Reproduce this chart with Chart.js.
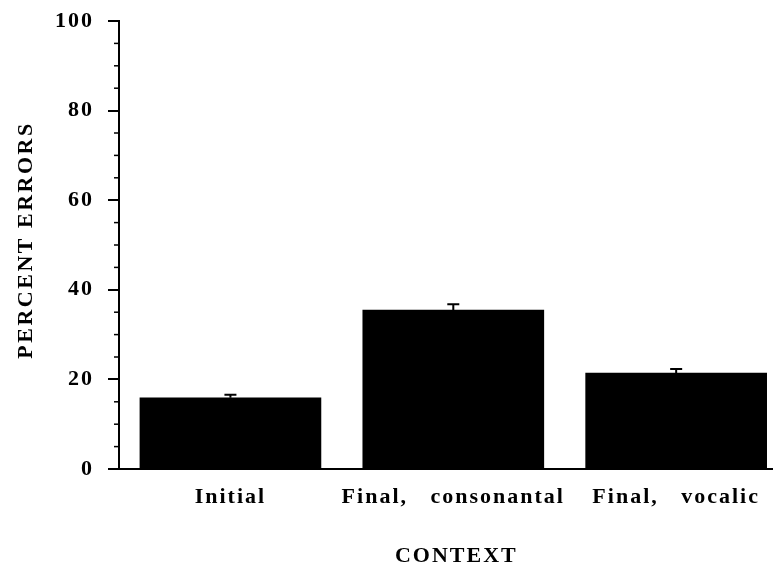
<!DOCTYPE html>
<html>
<head>
<meta charset="utf-8">
<script src="https://cdn.jsdelivr.net/npm/chart.js@4.4.0/dist/chart.umd.min.js"></script>
<style>
  html, body { margin: 0; padding: 0; background: #fff; }
  #wrap { width: 773px; height: 567px; }
</style>
</head>
<body>
<div id="wrap"><canvas id="errorsChart"></canvas></div>
<script>
// data
const categories = ['Initial', 'Final,   consonantal', 'Final,   vocalic'];
const percentErrors = [15.9, 35.5, 21.4];
const errorUp = [0.7, 1.3, 0.9];
const yTicks = [0, 20, 40, 60, 80, 100];
const yTitle = 'PERCENT ERRORS';
const xTitle = 'CONTEXT';

const serif = '"Liberation Serif", "Times New Roman", serif';

// spacing out letters like the scanned figure
const letterSpacing = {
  id: 'letterSpacing',
  beforeLayout(chart) { chart.ctx.letterSpacing = '2px'; },
  beforeDraw(chart) { chart.ctx.letterSpacing = '2px'; }
};

// small ticks every 5 units on the y axis
const minorTicks = {
  id: 'minorTicks',
  afterDraw(chart) {
    const y = chart.scales.y;
    const ctx = chart.ctx;
    ctx.save();
    ctx.strokeStyle = '#000';
    ctx.lineWidth = 1.5;
    for (let v = 5; v < 100; v += 5) {
      if (v % 20 === 0) continue;
      const py = y.getPixelForValue(v);
      ctx.beginPath();
      ctx.moveTo(y.right - 5, py);
      ctx.lineTo(y.right, py);
      ctx.stroke();
    }
    ctx.restore();
  }
};

// error bars (upper half only)
const errorBars = {
  id: 'errorBars',
  afterDatasetsDraw(chart) {
    const x = chart.scales.x;
    const y = chart.scales.y;
    const ctx = chart.ctx;
    ctx.save();
    ctx.strokeStyle = '#000';
    ctx.lineWidth = 2;
    percentErrors.forEach((v, i) => {
      const px = x.getPixelForValue(i);
      const top = y.getPixelForValue(v + errorUp[i]);
      ctx.beginPath();
      ctx.moveTo(px, y.getPixelForValue(v));
      ctx.lineTo(px, top);
      ctx.moveTo(px - 6, top);
      ctx.lineTo(px + 6, top);
      ctx.stroke();
    });
    ctx.restore();
  }
};

// axis titles
const axisTitles = {
  id: 'axisTitles',
  afterDraw(chart) {
    const ctx = chart.ctx;
    ctx.save();
    ctx.fillStyle = '#000';
    ctx.textAlign = 'center';
    ctx.textBaseline = 'middle';
    ctx.letterSpacing = '2.5px';
    ctx.font = 'bold 22px ' + serif;
    ctx.translate(26, 240);
    ctx.rotate(-Math.PI / 2);
    ctx.fillText(yTitle, 0, 0);
    ctx.restore();

    ctx.save();
    ctx.fillStyle = '#000';
    ctx.textAlign = 'center';
    ctx.textBaseline = 'middle';
    ctx.letterSpacing = '2px';
    ctx.font = 'bold 22px ' + serif;
    ctx.fillText(xTitle, chart.scales.x.getPixelForValue(1) + 3, 556);
    ctx.restore();
  }
};

new Chart(document.getElementById('errorsChart'), {
  type: 'bar',
  data: {
    datasets: [{
      data: percentErrors.map((v, i) => ({ x: i, y: v })),
      backgroundColor: '#000',
      borderWidth: 0,
      barThickness: 181
    }]
  },
  options: {
    responsive: true,
    maintainAspectRatio: false,
    animation: false,
    layout: { padding: { top: 21, right: 1, left: 0, bottom: 0 } },
    plugins: { legend: { display: false }, tooltip: { enabled: false } },
    scales: {
      x: {
        type: 'linear',
        offset: false,
        min: -0.5,
        max: 2.43,
        afterBuildTicks(scale) {
          scale.ticks = categories.map((c, i) => ({ value: i }));
        },
        afterFit(scale) {
          scale.height = 98;
          scale.paddingLeft = 0;
          scale.paddingRight = 0;
        },
        grid: { display: false },
        border: { display: true, color: '#000', width: 2 },
        ticks: {
          color: '#000',
          padding: 7,
          maxRotation: 0,
          autoSkip: false,
          font: { family: serif, size: 22, weight: 'bold' },
          callback: (v) => categories[v]
        }
      },
      y: {
        min: 0,
        max: 100,
        afterBuildTicks(scale) {
          scale.ticks = yTicks.map(v => ({ value: v }));
        },
        afterFit(scale) {
          scale.width = 119;
          scale.paddingTop = 0;
          scale.paddingBottom = 0;
        },
        grid: { drawOnChartArea: false, drawTicks: true, tickLength: 11, color: '#000', lineWidth: 2 },
        border: { display: true, color: '#000', width: 2 },
        ticks: {
          color: '#000',
          padding: 14,
          font: { family: serif, size: 22, weight: 'bold' }
        }
      }
    }
  },
  plugins: [letterSpacing, minorTicks, errorBars, axisTitles]
});
</script>
</body>
</html>
